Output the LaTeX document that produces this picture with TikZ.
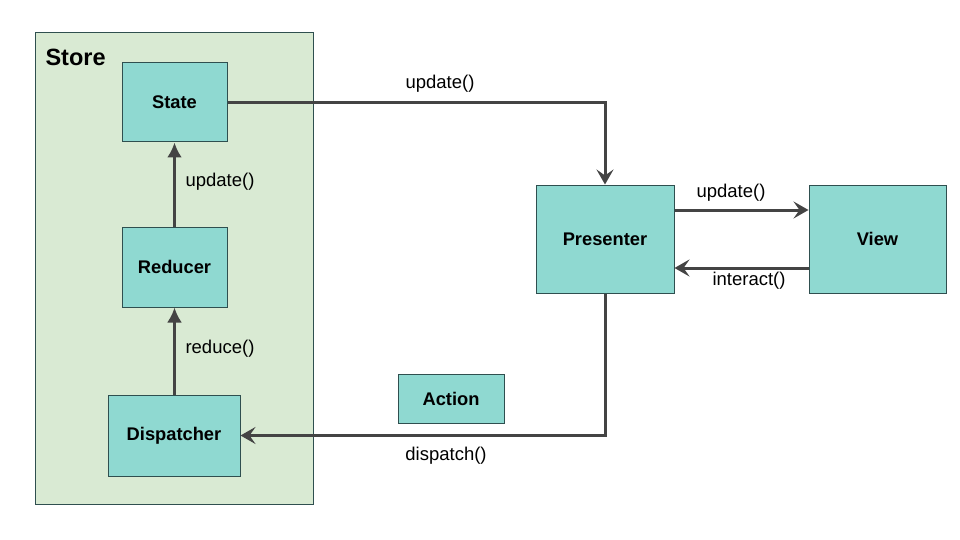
\documentclass[tikz,border=0pt]{standalone}
\usepackage{fontspec}
\setmainfont{Liberation Sans}
\usetikzlibrary{arrows.meta}
\definecolor{storebg}{HTML}{D9EAD3}
\definecolor{boxbg}{HTML}{8FD9D1}
\definecolor{boxln}{HTML}{2F4F4F}
\definecolor{lineC}{HTML}{444444}
\tikzset{
  box/.style={draw=boxln, line width=1pt, fill=boxbg, font=\bfseries\fontsize{18.3}{21}\selectfont, inner sep=0pt},
  flow/.style={draw=lineC, line width=3pt, -{Stealth[length=15pt,width=17pt,inset=6pt]}},
  upflow/.style={draw=lineC, line width=3pt, -{Latex[length=15pt,width=15pt]}},
  lbl/.style={font=\fontsize{18.5}{21}\selectfont, text=black}
}
\begin{document}
\begin{tikzpicture}[x=1pt,y=-1pt]
\useasboundingbox (0,0) rectangle (960,540);
\node[draw=boxln, line width=1pt, fill=storebg, minimum width=278pt, minimum height=471pt, inner sep=0pt] (store) at (174,268.5) {};
\node[font=\bfseries\fontsize{23.5}{27}\selectfont, anchor=west] (storelbl) at (42,57) {Store};
\node[box, minimum width=105pt, minimum height=79pt] (state) at (174.5,102.5) {State};
\node[box, minimum width=105pt, minimum height=80pt] (reducer) at (174.5,267) {Reducer};
\node[box, minimum width=132pt, minimum height=81pt] (disp) at (174,435.5) {Dispatcher};
\node[box, minimum width=138pt, minimum height=108pt] (pres) at (605,239) {Presenter};
\node[box, minimum width=137pt, minimum height=108pt] (view) at (877.5,239) {View};
\node[box, minimum width=106pt, minimum height=49pt] (action) at (451,398.5) {Action};

\draw[upflow] (reducer.north) -- (state.south);
\draw[upflow] (disp.north -| reducer.south) -- (reducer.south);
\node[lbl, anchor=west] (l1) at (182,182) {update()};
\node[lbl, anchor=west] (l2) at (182,349) {reduce()};

\draw[flow] (state.east) -- (605,102.5) -- (pres.north);
\node[lbl] (l3) at (440,84) {update()};

\draw[flow] ([yshift=29pt]pres.east) -- ([yshift=29pt]view.west);
\node[lbl] (l4) at (731,193) {update()};
\draw[flow] ([yshift=-29pt]view.west) -- ([yshift=-29pt]pres.east);
\node[lbl] (l5) at (749,281) {interact()};

\draw[flow] (pres.south) -- (605,435.5) -- (disp.east);
\node[lbl] (l6) at (446,456) {dispatch()};
\end{tikzpicture}
\end{document}
